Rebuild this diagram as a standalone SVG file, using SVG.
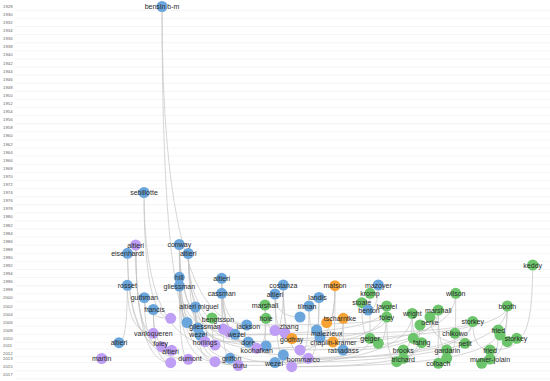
<svg xmlns="http://www.w3.org/2000/svg" width="550" height="381" viewBox="0 0 550 381">
<style>
.yr{font-family:"Liberation Sans",Arial,sans-serif;font-size:4.3px;fill:#666}
.grid{stroke:#ececec;stroke-width:0.6;fill:none}
.e{stroke:#c4c4c4;stroke-width:0.7;fill:none}
.b{fill:#6aa6dc}
.p{fill:#bf9ff5}
.g{fill:#6cc56a}
.o{fill:#f7a234}
text.l{font-family:"Liberation Sans",Arial,sans-serif;font-size:7px;fill:#2a2a2a;text-anchor:middle}
</style>
<rect width="550" height="381" fill="#ffffff"/>
<g id="axis">
<path class="grid" d="M15 10.3H550M15 18.4H550M15 26.5H550M15 34.6H550M15 42.7H550M15 50.8H550M15 58.9H550M15 67H550M15 75.1H550M15 83.2H550M15 91.3H550M15 99.4H550M15 107.5H550M15 115.6H550M15 123.7H550M15 131.8H550M15 139.9H550M15 148H550M15 156.1H550M15 164.2H550M15 172.3H550M15 180.4H550M15 188.5H550M15 196.6H550M15 204.7H550M15 212.8H550M15 220.9H550M15 229H550M15 237.1H550M15 245.2H550M15 253.3H550M15 261.4H550M15 269.5H550M15 277.6H550M15 285.7H550M15 293.8H550M15 301.9H550M15 310H550M15 318.1H550M15 326.2H550M15 334.3H550M15 342.4H550M15 349H550M15 356.5H550M15 362.5H550M15 370.7H550M15 378.7H550"/>
<text class="yr" x="3" y="7.8">1928</text>
<text class="yr" x="3" y="15.9">1930</text>
<text class="yr" x="3" y="24">1932</text>
<text class="yr" x="3" y="32.1">1934</text>
<text class="yr" x="3" y="40.2">1936</text>
<text class="yr" x="3" y="48.3">1938</text>
<text class="yr" x="3" y="56.4">1940</text>
<text class="yr" x="3" y="64.5">1942</text>
<text class="yr" x="3" y="72.6">1944</text>
<text class="yr" x="3" y="80.7">1946</text>
<text class="yr" x="3" y="88.8">1948</text>
<text class="yr" x="3" y="96.9">1950</text>
<text class="yr" x="3" y="105">1952</text>
<text class="yr" x="3" y="113.1">1954</text>
<text class="yr" x="3" y="121.2">1956</text>
<text class="yr" x="3" y="129.3">1958</text>
<text class="yr" x="3" y="137.4">1960</text>
<text class="yr" x="3" y="145.5">1962</text>
<text class="yr" x="3" y="153.6">1964</text>
<text class="yr" x="3" y="161.7">1966</text>
<text class="yr" x="3" y="169.8">1968</text>
<text class="yr" x="3" y="177.9">1970</text>
<text class="yr" x="3" y="186">1972</text>
<text class="yr" x="3" y="194.1">1974</text>
<text class="yr" x="3" y="202.2">1976</text>
<text class="yr" x="3" y="210.3">1978</text>
<text class="yr" x="3" y="218.4">1980</text>
<text class="yr" x="3" y="226.5">1982</text>
<text class="yr" x="3" y="234.6">1984</text>
<text class="yr" x="3" y="242.7">1986</text>
<text class="yr" x="3" y="250.8">1988</text>
<text class="yr" x="3" y="258.9">1990</text>
<text class="yr" x="3" y="267">1992</text>
<text class="yr" x="3" y="275.1">1994</text>
<text class="yr" x="3" y="283.2">1996</text>
<text class="yr" x="3" y="291.3">1998</text>
<text class="yr" x="3" y="299.4">2000</text>
<text class="yr" x="3" y="307.5">2002</text>
<text class="yr" x="3" y="315.6">2004</text>
<text class="yr" x="3" y="323.7">2006</text>
<text class="yr" x="3" y="331.8">2008</text>
<text class="yr" x="3" y="339.9">2010</text>
<text class="yr" x="3" y="346.5">2011</text>
<text class="yr" x="3" y="354.5">2012</text>
<text class="yr" x="3" y="360">2013</text>
<text class="yr" x="3" y="368.2">2015</text>
<text class="yr" x="3" y="376.2">2017</text>
</g>
<g id="connectors">
<path class="e" d="M162 6.5Q162 335 200 335"/>
<path class="e" d="M162 6.5Q162 325 246.7 325"/>
<path class="e" d="M144 192.5Q144 318.3 170.7 318.3"/>
<path class="e" d="M144 192.5Q144 345 215 345"/>
<path class="e" d="M135.7 245Q135.7 333.3 153.3 333.3"/>
<path class="e" d="M135.7 245Q135.7 346.7 161.7 346.7"/>
<path class="e" d="M135.7 245Q135.7 362.7 170.7 362.7"/>
<path class="e" d="M127.5 253.3Q127.5 350.3 171.7 350.3"/>
<path class="e" d="M127.5 253.3Q127.5 359.3 188.3 359.3"/>
<path class="e" d="M179.3 244.5Q179.3 322.5 187 322.5"/>
<path class="e" d="M179.3 244.5Q179.3 334.3 235 334.3"/>
<path class="e" d="M179.3 244.5Q179.3 341.7 205 341.7"/>
<path class="e" d="M179.3 244.5Q179.3 348.3 256.7 348.3"/>
<path class="e" d="M188.3 253.5Q188.3 342 248.3 342"/>
<path class="e" d="M188.3 253.5Q188.3 358.3 230 358.3"/>
<path class="e" d="M188.3 253.5Q188.3 350 300 350"/>
<path class="e" d="M188.3 253.5Q188.3 362.5 275 362.5"/>
<path class="e" d="M179.3 277.3Q179.3 335 200 335"/>
<path class="e" d="M179.3 277.3Q179.3 329 223.3 329"/>
<path class="e" d="M179.3 277.3Q179.3 365.5 238.3 365.5"/>
<path class="e" d="M179.3 286Q179.3 359.3 188.3 359.3"/>
<path class="e" d="M179.3 286Q179.3 361.7 215 361.7"/>
<path class="e" d="M179.3 286Q179.3 346 266 346"/>
<path class="e" d="M221.7 278.3Q221.7 325 246.7 325"/>
<path class="e" d="M221.7 278.3Q221.7 342 248.3 342"/>
<path class="e" d="M221.7 278.3Q221.7 348.3 256.7 348.3"/>
<path class="e" d="M221.7 293.3Q221.7 332 229 332"/>
<path class="e" d="M221.7 293.3Q221.7 358.3 230 358.3"/>
<path class="e" d="M221.7 293.3Q221.7 355 283.3 355"/>
<path class="e" d="M283.3 285Q283.3 330.5 275 330.5"/>
<path class="e" d="M283.3 285Q283.3 338.5 292 338.5"/>
<path class="e" d="M283.3 285Q283.3 358.3 308.3 358.3"/>
<path class="e" d="M275 294Q275 317 300 317"/>
<path class="e" d="M275 294Q275 333 285 333"/>
<path class="e" d="M275 294Q275 366.7 291.7 366.7"/>
<path class="e" d="M335 285.7Q335 322.7 326.7 322.7"/>
<path class="e" d="M335 285.7Q335 342 333 342"/>
<path class="e" d="M335 285.7Q335 350 300 350"/>
<path class="e" d="M319 297.5Q319 330 316.7 330"/>
<path class="e" d="M319 297.5Q319 358.3 308.3 358.3"/>
<path class="e" d="M309 306Q309 337.5 320 337.5"/>
<path class="e" d="M309 306Q309 366.7 291.7 366.7"/>
<path class="e" d="M378.3 285Q378.3 310 368 310"/>
<path class="e" d="M370 293.3Q370 338.3 370 338.3"/>
<path class="e" d="M127.3 285.3Q127.3 342.7 119 342.7"/>
<path class="e" d="M127.3 285.3Q127.3 333.3 153.3 333.3"/>
<path class="e" d="M144.3 297.7Q144.3 318.3 170.7 318.3"/>
<path class="e" d="M144.3 297.7Q144.3 346.7 161.7 346.7"/>
<path class="e" d="M153.3 309.5Q153.3 362.7 170.7 362.7"/>
<path class="e" d="M153.3 309.5Q153.3 350.3 171.7 350.3"/>
<path class="e" d="M195.5 307Q195.5 341.7 205 341.7"/>
<path class="e" d="M195.5 307Q195.5 361.7 215 361.7"/>
<path class="e" d="M195.5 307Q195.5 365.5 238.3 365.5"/>
<path class="e" d="M265 305Q265 346 266 346"/>
<path class="e" d="M265 305Q265 330.5 275 330.5"/>
<path class="e" d="M266 318.3Q266 348.3 256.7 348.3"/>
<path class="e" d="M212 318Q212 345 215 345"/>
<path class="e" d="M343.3 318.3Q343.3 342 333 342"/>
<path class="e" d="M343.3 318.3Q343.3 350 343 350"/>
<path class="e" d="M472.7 321.5Q472.7 358.3 308.3 358.3"/>
<path class="e" d="M498.3 330Q498.3 366.7 291.7 366.7"/>
<path class="e" d="M507.3 306Q507.3 362.5 275 362.5"/>
<path class="e" d="M438.3 310Q438.3 350 300 350"/>
<path class="e" d="M386.7 306Q386.7 348.3 256.7 348.3"/>
<path class="e" d="M472.7 321.5Q472.7 361.7 215 361.7"/>
<path class="e" d="M412.3 313.5Q412.3 365.5 238.3 365.5"/>
<path class="e" d="M386.7 317Q386.7 338.5 292 338.5"/>
<path class="e" d="M455.7 293.3Q455.7 342 333 342"/>
<path class="e" d="M420 325Q420 350 343 350"/>
<path class="e" d="M532.7 265Q532.7 338.3 516.7 338.3"/>
<path class="e" d="M507.3 306Q507.3 335 500 335"/>
<path class="e" d="M472.7 321.5Q472.7 350 490 350"/>
<path class="e" d="M498.3 330Q498.3 359 490 359"/>
<path class="e" d="M455.7 293.3Q455.7 333.3 455 333.3"/>
<path class="e" d="M438.3 310Q438.3 350 446.7 350"/>
<path class="e" d="M438.3 310Q438.3 363.3 438.3 363.3"/>
<path class="e" d="M412.3 313.5Q412.3 342.7 421.7 342.7"/>
<path class="e" d="M412.3 313.5Q412.3 350 403.3 350"/>
<path class="e" d="M386.7 317Q386.7 361.7 396.7 361.7"/>
<path class="e" d="M386.7 306Q386.7 343.3 378.3 343.3"/>
<path class="e" d="M430 317Q430 343.3 465 343.3"/>
<path class="e" d="M420 325Q420 358.3 403.3 358.3"/>
<path class="e" d="M361.7 302.7Q361.7 338.3 370 338.3"/>
<path class="e" d="M455 333.3Q455 358.3 446.7 358.3"/>
<path class="e" d="M421.7 342.7Q421.7 366.7 291.7 366.7"/>
<path class="e" d="M370 338.3Q370 358.3 308.3 358.3"/>
<path class="e" d="M516.7 338.3Q516.7 350 490 350"/>
<path class="e" d="M507.3 306Q507.3 363.3 481.7 363.3"/>
<path class="e" d="M386.7 306Q386.7 334.3 235 334.3"/>
<path class="e" d="M507.3 306Q507.3 341.7 205 341.7"/>
<path class="e" d="M386.7 317Q386.7 325 246.7 325"/>
<path class="e" d="M472.7 321.5Q472.7 335 200 335"/>
</g>
<g id="nodes">
<g id="u1"><circle class="p" cx="170.7" cy="318.3" r="5.5"/></g>
<g id="u2"><circle class="b" cx="300" cy="317" r="5.5"/></g>
<g id="u3"><circle class="b" cx="198" cy="328" r="5.5"/></g>
<g id="u4"><circle class="p" cx="223.3" cy="329" r="5.5"/></g>
<g id="u5"><circle class="p" cx="229" cy="332" r="5.5"/></g>
<g id="u6"><circle class="p" cx="285" cy="333" r="5.5"/></g>
<g id="u8"><circle class="o" cx="326.7" cy="322.7" r="5.5"/></g>
<g id="u9"><circle class="b" cx="316.7" cy="330" r="5.5"/></g>
<g id="u11"><circle class="g" cx="430" cy="317" r="5.5"/></g>
<g id="u12"><circle class="g" cx="500" cy="335" r="5.5"/></g>
<g id="u13"><circle class="g" cx="507.3" cy="341.7" r="5.5"/></g>
<g id="u14"><circle class="g" cx="378.3" cy="343.3" r="5.5"/></g>
<g id="u15"><circle class="g" cx="413.3" cy="338.3" r="5.5"/></g>
<g id="u16"><circle class="b" cx="266" cy="346" r="5.5"/></g>
<g id="u17"><circle class="p" cx="300" cy="350" r="5.5"/></g>
<g id="u18"><circle class="b" cx="283.3" cy="355" r="5.5"/></g>
<g id="u19"><circle class="p" cx="215" cy="361.7" r="5.5"/></g>
<g id="u20"><circle class="p" cx="170.7" cy="362.7" r="5.5"/></g>
<g id="u21"><circle class="p" cx="291.7" cy="366.7" r="5.5"/></g>
<g id="u22"><circle class="g" cx="396.7" cy="361.7" r="5.5"/></g>
<g id="u23"><circle class="g" cx="446.7" cy="358.3" r="5.5"/></g>
<g id="u24"><circle class="g" cx="481.7" cy="363.3" r="5.5"/></g>
<g id="u25"><circle class="p" cx="215" cy="345" r="5.5"/></g>
<g id="n-bensin"><circle class="b" cx="162" cy="6.5" r="5.5"/><text class="l" x="162" y="9">bensin b-m</text></g>
<g id="n-sebillotte"><circle class="b" cx="144" cy="192.5" r="5.5"/><text class="l" x="144" y="195">sebillotte</text></g>
<g id="n-altieri-1986"><circle class="p" cx="135.7" cy="245" r="5.5"/><text class="l" x="135.7" y="247.5">altieri</text></g>
<g id="n-conway"><circle class="b" cx="179.3" cy="244.5" r="5.5"/><text class="l" x="179.3" y="247">conway</text></g>
<g id="n-eisenhardt"><circle class="b" cx="127.5" cy="253.3" r="5.5"/><text class="l" x="127.5" y="255.8">eisenhardt</text></g>
<g id="n-altieri-1988"><circle class="b" cx="188.3" cy="253.5" r="5.5"/><text class="l" x="188.3" y="256">altieri</text></g>
<g id="n-keddy"><circle class="g" cx="532.7" cy="265" r="5.5"/><text class="l" x="532.7" y="267.5">keddy</text></g>
<g id="n-hill"><circle class="b" cx="179.3" cy="277.3" r="5.5"/><text class="l" x="179.3" y="279.8">hill</text></g>
<g id="n-altieri-1994"><circle class="b" cx="221.7" cy="278.3" r="5.5"/><text class="l" x="221.7" y="280.8">altieri</text></g>
<g id="n-rosset"><circle class="b" cx="127.3" cy="285.3" r="5.5"/><text class="l" x="127.3" y="287.8">rosset</text></g>
<g id="n-gliessman-1"><circle class="b" cx="179.3" cy="286" r="5.5"/><text class="l" x="179.3" y="288.5">gliessman</text></g>
<g id="n-costanza"><circle class="b" cx="283.3" cy="285" r="5.5"/><text class="l" x="283.3" y="287.5">costanza</text></g>
<g id="n-matson"><circle class="o" cx="335" cy="285.7" r="5.5"/><text class="l" x="335" y="288.2">matson</text></g>
<g id="n-mazoyer"><circle class="b" cx="378.3" cy="285" r="5.5"/><text class="l" x="378.3" y="287.5">mazoyer</text></g>
<g id="n-cassman"><circle class="b" cx="221.7" cy="293.3" r="5.5"/><text class="l" x="221.7" y="295.8">cassman</text></g>
<g id="n-altieri-1999"><circle class="b" cx="275" cy="294" r="5.5"/><text class="l" x="275" y="296.5">altieri</text></g>
<g id="n-kromp"><circle class="g" cx="370" cy="293.3" r="5.5"/><text class="l" x="370" y="295.8">kromp</text></g>
<g id="n-wilson"><circle class="g" cx="455.7" cy="293.3" r="5.5"/><text class="l" x="455.7" y="295.8">wilson</text></g>
<g id="n-landis"><circle class="b" cx="319" cy="297.5" r="5.5"/><text class="l" x="317.5" y="300">landis</text></g>
<g id="n-guthman"><circle class="b" cx="144.3" cy="297.7" r="5.5"/><text class="l" x="144.3" y="300.2">guthman</text></g>
<g id="n-stoate"><circle class="g" cx="361.7" cy="302.7" r="5.5"/><text class="l" x="361.7" y="305.2">stoate</text></g>
<g id="n-marshall-1"><circle class="g" cx="265" cy="305" r="5.5"/><text class="l" x="265" y="307.5">marshall</text></g>
<g id="n-tilman"><circle class="b" cx="309" cy="306" r="5.5"/><text class="l" x="307" y="308.5">tilman</text></g>
<g id="n-lavorel"><circle class="g" cx="386.7" cy="306" r="5.5"/><text class="l" x="386.7" y="308.5">lavorel</text></g>
<g id="n-booth"><circle class="g" cx="507.3" cy="306" r="5.5"/><text class="l" x="507.3" y="308.5">booth</text></g>
<g id="n-altieri-miguel"><circle class="b" cx="195.5" cy="307" r="5.5"/><text class="l" x="199" y="309.3">altieri miguel</text></g>
<g id="n-francis"><circle class="b" cx="153.3" cy="309.5" r="5.5"/><text class="l" x="154.5" y="312">francis</text></g>
<g id="n-benton"><circle class="b" cx="368" cy="310" r="5.5"/><text class="l" x="369" y="312.5">benton</text></g>
<g id="n-marshall-2"><circle class="g" cx="438.3" cy="310" r="5.5"/><text class="l" x="438.3" y="312.5">marshall</text></g>
<g id="n-wright"><circle class="g" cx="412.3" cy="313.5" r="5.5"/><text class="l" x="412.3" y="316">wright</text></g>
<g id="n-foley-g"><circle class="g" cx="386.7" cy="317" r="5.5"/><text class="l" x="386.7" y="319.5">foley</text></g>
<g id="n-tscharntke"><circle class="o" cx="343.3" cy="318.3" r="5.5"/><text class="l" x="340" y="320.8">tscharntke</text></g>
<g id="n-bengtsson"><circle class="g" cx="212" cy="318" r="5.5"/><text class="l" x="218" y="321.5">bengtsson</text></g>
<g id="n-hole"><circle class="g" cx="266" cy="318.3" r="5.5"/><text class="l" x="266" y="320.8">hole</text></g>
<g id="n-storkey-1"><circle class="g" cx="472.7" cy="321.5" r="5.5"/><text class="l" x="472.7" y="324">storkey</text></g>
<g id="n-oerke"><circle class="g" cx="420" cy="325" r="5.5"/><text class="l" x="430" y="325.3">oerke</text></g>
<g id="n-gliessman-2"><circle class="b" cx="187" cy="322.5" r="5.5"/><text class="l" x="205" y="329.2">gliessman</text></g>
<g id="n-jackson"><circle class="b" cx="246.7" cy="325" r="5.5"/><text class="l" x="248.3" y="329.2">jackson</text></g>
<g id="n-zhang"><circle class="p" cx="275" cy="330.5" r="5.5"/><text class="l" x="289" y="328.5">zhang</text></g>
<g id="n-fried-1"><circle class="g" cx="498.3" cy="330" r="5.5"/><text class="l" x="498.3" y="332.5">fried</text></g>
<g id="n-malezieux"><circle class="b" cx="320" cy="337.5" r="5.5"/><text class="l" x="326.7" y="335.8">malezieux</text></g>
<g id="n-chikowo"><circle class="g" cx="455" cy="333.3" r="5.5"/><text class="l" x="455" y="335.8">chikowo</text></g>
<g id="n-vanloqueren"><circle class="p" cx="153.3" cy="333.3" r="5.5"/><text class="l" x="153.3" y="335.8">vanloqueren</text></g>
<g id="n-wezel-1"><circle class="b" cx="200" cy="335" r="5.5"/><text class="l" x="198.3" y="336.8">wezel</text></g>
<g id="n-wezel-2"><circle class="b" cx="235" cy="334.3" r="5.5"/><text class="l" x="236.7" y="336.8">wezel</text></g>
<g id="n-storkey-2"><circle class="g" cx="516.7" cy="338.3" r="5.5"/><text class="l" x="516" y="340.8">storkey</text></g>
<g id="n-geiger"><circle class="g" cx="370" cy="338.3" r="5.5"/><text class="l" x="370" y="340.8">geiger</text></g>
<g id="n-godfray"><circle class="o" cx="292" cy="338.5" r="5.5"/><text class="l" x="291.7" y="341.5">godfray</text></g>
<g id="n-horlings"><circle class="p" cx="205" cy="341.7" r="5.5"/><text class="l" x="205" y="344.8">horlings</text></g>
<g id="n-dore"><circle class="b" cx="248.3" cy="342" r="5.5"/><text class="l" x="248.3" y="344.8">dore</text></g>
<g id="n-chaplin-kramer"><circle class="o" cx="333" cy="342" r="5.5"/><text class="l" x="333.3" y="345.2">chaplin-kramer</text></g>
<g id="n-altieri-2011"><circle class="b" cx="119" cy="342.7" r="5.5"/><text class="l" x="119" y="345.2">altieri</text></g>
<g id="n-foley-p"><circle class="p" cx="161.7" cy="346.7" r="5.5"/><text class="l" x="160.7" y="345.5">foley</text></g>
<g id="n-fahrig"><circle class="g" cx="421.7" cy="342.7" r="5.5"/><text class="l" x="421.7" y="345.2">fahrig</text></g>
<g id="n-petit"><circle class="g" cx="465" cy="343.3" r="5.5"/><text class="l" x="465" y="345.8">petit</text></g>
<g id="n-koohafkan"><circle class="p" cx="256.7" cy="348.3" r="5.5"/><text class="l" x="256.7" y="352.5">koohafkan</text></g>
<g id="n-altieri-2012"><circle class="p" cx="171.7" cy="350.3" r="5.5"/><text class="l" x="170.5" y="353.5">altieri</text></g>
<g id="n-ratnadass"><circle class="b" cx="343" cy="350" r="5.5"/><text class="l" x="343.3" y="353.2">ratnadass</text></g>
<g id="n-brooks"><circle class="g" cx="403.3" cy="350" r="5.5"/><text class="l" x="403.3" y="352.5">brooks</text></g>
<g id="n-gardarin"><circle class="g" cx="446.7" cy="350" r="5.5"/><text class="l" x="447.3" y="352.5">gardarin</text></g>
<g id="n-fried-2"><circle class="g" cx="490" cy="350" r="5.5"/><text class="l" x="490" y="352.5">fried</text></g>
<g id="n-martin"><circle class="p" cx="101.7" cy="358.5" r="5.5"/><text class="l" x="101.7" y="361">martin</text></g>
<g id="n-dumont"><circle class="p" cx="188.3" cy="359.3" r="5.5"/><text class="l" x="190" y="360.8">dumont</text></g>
<g id="n-griffon"><circle class="b" cx="230" cy="358.3" r="5.5"/><text class="l" x="231.7" y="360.8">griffon</text></g>
<g id="n-bommarco"><circle class="p" cx="308.3" cy="358.3" r="5.5"/><text class="l" x="303.3" y="361.8">bommarco</text></g>
<g id="n-trichard"><circle class="g" cx="403.3" cy="358.3" r="5.5"/><text class="l" x="403.3" y="361.5">trichard</text></g>
<g id="n-wezel-3"><circle class="b" cx="275" cy="362.5" r="5.5"/><text class="l" x="274" y="365.5">wezel</text></g>
<g id="n-colbach"><circle class="g" cx="438.3" cy="363.3" r="5.5"/><text class="l" x="438.3" y="365.5">colbach</text></g>
<g id="n-munier-jolain"><circle class="g" cx="490" cy="359" r="5.5"/><text class="l" x="490" y="361.5">munier-jolain</text></g>
<g id="n-duru"><circle class="p" cx="238.3" cy="365.5" r="5.5"/><text class="l" x="240" y="368.3">duru</text></g>
</g>
</svg>
